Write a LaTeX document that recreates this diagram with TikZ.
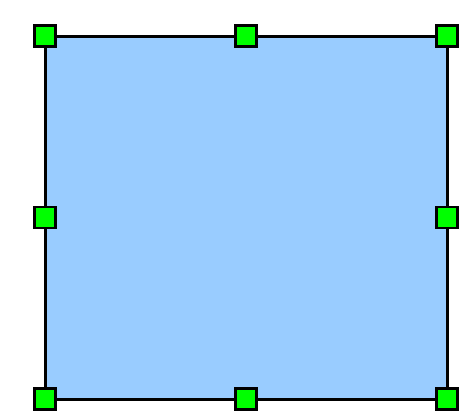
\documentclass[tikz,border=0pt]{standalone}
\usetikzlibrary{positioning}
\definecolor{shapeblue}{RGB}{153,204,255}
\definecolor{handlegreen}{RGB}{0,255,0}

\begin{document}
\begin{tikzpicture}[
  x=1pt, y=-1pt,
  shapebox/.style={rectangle, draw=black, fill=shapeblue, line width=3pt, outer sep=0pt, minimum width=402pt, minimum height=363pt, inner sep=0pt},
  handle/.style={rectangle, draw=black, fill=handlegreen, line width=2.8pt, minimum size=21pt, inner sep=0pt},
]
\useasboundingbox (0,0) rectangle (473,416);

% === selected shape ===
\node[shapebox] (sel) at (246, 217.5) {};

% === resize handles ===
\node[handle] (hnw) at (sel.north west) {};
\node[handle] (hn)  at (sel.north)      {};
\node[handle] (hne) at (sel.north east) {};
\node[handle] (hw)  at (sel.west)       {};
\node[handle] (he)  at (sel.east)       {};
\node[handle] (hsw) at (sel.south west) {};
\node[handle] (hs)  at (sel.south)      {};
\node[handle] (hse) at (sel.south east) {};
\end{tikzpicture}
\end{document}
